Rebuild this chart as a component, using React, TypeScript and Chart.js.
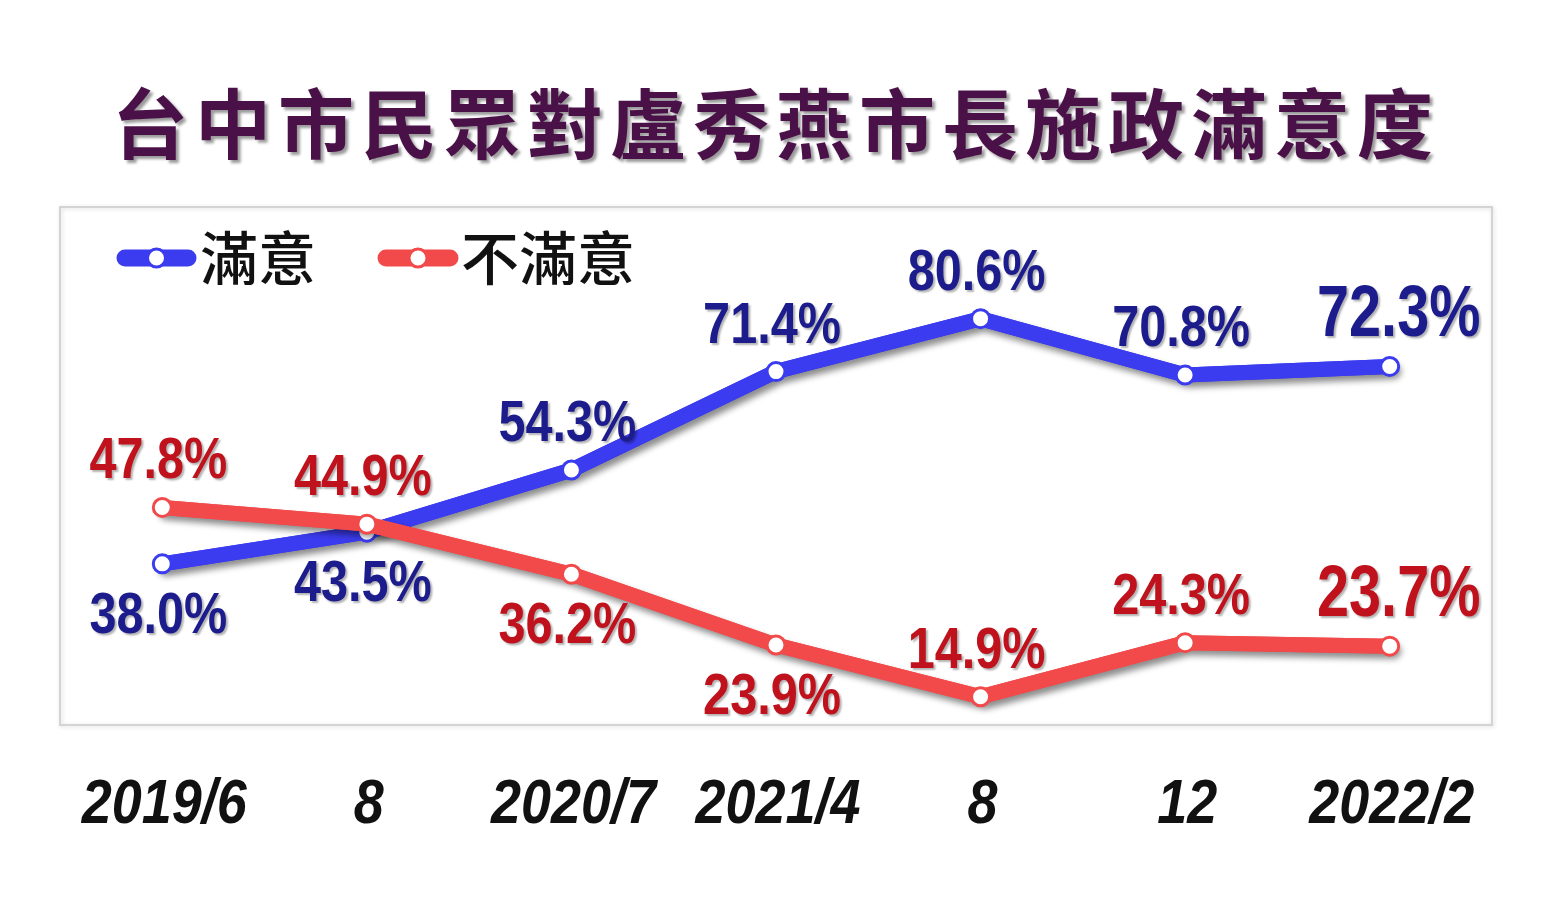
import React, { useEffect, useRef } from "react";
import { Chart, registerables } from "chart.js";

Chart.register(...registerables);

const titleText = "台中市民眾對盧秀燕市長施政滿意度";
const categories = ["2019/6", "8", "2020/7", "2021/4", "8", "12", "2022/2"];
const seriesNames = ["滿意", "不滿意"];
const satisfied = [38.0, 43.5, 54.3, 71.4, 80.6, 70.8, 72.3];
const dissatisfied = [47.8, 44.9, 36.2, 23.9, 14.9, 24.3, 23.7];
const satisfiedLabelSide = ["below", "below", "above", "above", "above", "above", "above"];
const dissatisfiedLabelSide = ["above", "above", "below", "below", "above", "above", "above"];

const BLUE = "#3b3bef";
const RED = "#f24a4a";
const BLUE_TEXT = "#1c1c8c";
const RED_TEXT = "#c0121c";

function drawScaledText(
  ctx: CanvasRenderingContext2D,
  text: string,
  x: number,
  y: number,
  font: string,
  color: string,
  sx: number,
  sy: number,
  shadow = true
) {
  ctx.save();
  ctx.translate(x, y);
  ctx.scale(sx, sy);
  ctx.font = font;
  ctx.fillStyle = color;
  ctx.textAlign = "center";
  ctx.textBaseline = "middle";
  if (shadow) {
    ctx.shadowColor = "rgba(0,0,0,0.3)";
    ctx.shadowOffsetX = 2;
    ctx.shadowOffsetY = 2;
    ctx.shadowBlur = 2;
  }
  ctx.fillText(text, 0, 0);
  ctx.restore();
}

const decorPlugin = {
  id: "decor",
  beforeDatasetsDraw(chart: any) {
    const { ctx, chartArea } = chart;
    ctx.save();
    ctx.shadowColor = "rgba(0,0,0,0.15)";
    ctx.shadowBlur = 4;
    ctx.shadowOffsetX = 1;
    ctx.shadowOffsetY = 1;
    ctx.strokeStyle = "#d4d4d4";
    ctx.lineWidth = 2;
    ctx.strokeRect(chartArea.left, chartArea.top, chartArea.right - chartArea.left, chartArea.bottom - chartArea.top);
    ctx.restore();

    // legend
    const legendY = chartArea.top + 51;
    const items = [
      { x0: chartArea.left + 57, x1: chartArea.left + 136, tx: chartArea.left + 140 },
      { x0: chartArea.left + 318, x1: chartArea.left + 398, tx: chartArea.left + 401 },
    ];
    chart.data.datasets.forEach((ds: any, i: number) => {
      const it = items[i];
      ctx.save();
      ctx.strokeStyle = ds.borderColor;
      ctx.lineWidth = 17;
      ctx.lineCap = "round";
      ctx.beginPath();
      ctx.moveTo(it.x0 + 8, legendY);
      ctx.lineTo(it.x1 - 8, legendY);
      ctx.stroke();
      ctx.beginPath();
      ctx.arc((it.x0 + it.x1) / 2, legendY, 9, 0, Math.PI * 2);
      ctx.fillStyle = "#ffffff";
      ctx.fill();
      ctx.lineWidth = 3;
      ctx.stroke();
      ctx.font = '500 58px "Noto Sans CJK TC", "Noto Sans CJK SC", sans-serif';
      ctx.fillStyle = "#111111";
      ctx.textAlign = "left";
      ctx.textBaseline = "middle";
      ctx.fillText(ds.label, it.tx, legendY + 0);
      ctx.restore();
    });
  },
  beforeDatasetDraw(chart: any, args: any) {
    const ctx = chart.ctx;
    const meta = args.meta;
    ctx.save();
    ctx.shadowColor = "rgba(0,0,0,0.45)";
    ctx.shadowOffsetX = 4;
    ctx.shadowOffsetY = 5;
    ctx.shadowBlur = 6;
    if (meta && meta.dataset) meta.dataset.draw(ctx, chart.chartArea);
    ctx.restore();
  },
  afterDatasetsDraw(chart: any) {
    const { ctx } = chart;
    const xScale = chart.scales.x;
    const yScale = chart.scales.y;
    const specs = [
      { data: satisfied, sides: satisfiedLabelSide, color: BLUE_TEXT },
      { data: dissatisfied, sides: dissatisfiedLabelSide, color: RED_TEXT },
    ];
    specs.forEach((s) => {
      s.data.forEach((v, i) => {
        const px = xScale.getPixelForValue(i);
        const py = yScale.getPixelForValue(v);
        const last = i === s.data.length - 1;
        const text = v.toFixed(1) + "%";
        if (last) {
          const y = py - 50;
          drawScaledText(ctx, text, px + 9, y, 'bold 64px "Liberation Sans", Arial, sans-serif', s.color, 0.9, 1.13);
        } else {
          const y = s.sides[i] === "above" ? py - 45 : py + 53;
          drawScaledText(ctx, text, px - 4, y, 'bold 54px "Liberation Sans", Arial, sans-serif', s.color, 0.9, 1.07);
        }
      });
    });
    // category labels below the plot box
    categories.forEach((c, i) => {
      const px = xScale.getPixelForValue(i);
      drawScaledText(
        ctx,
        c,
        px + 2,
        chart.chartArea.bottom + 81,
        'italic bold 58px "Liberation Sans", Arial, sans-serif',
        "#111111",
        0.93,
        1.08,
        false
      );
    });
  },
};

export default function App() {
  const canvasRef = useRef<HTMLCanvasElement | null>(null);

  useEffect(() => {
    if (!canvasRef.current) return;
    const chart = new Chart(canvasRef.current, {
      type: "line",
      data: {
        labels: categories,
        datasets: [
          {
            label: seriesNames[0],
            data: satisfied,
            borderColor: BLUE,
            backgroundColor: BLUE,
            borderWidth: 15,
            borderCapStyle: "round",
            borderJoinStyle: "round",
            pointRadius: 9,
            pointBorderWidth: 3,
            pointBackgroundColor: "#ffffff",
            pointBorderColor: BLUE,
            tension: 0,
            order: 1,
          },
          {
            label: seriesNames[1],
            data: dissatisfied,
            borderColor: RED,
            backgroundColor: RED,
            borderWidth: 15,
            borderCapStyle: "round",
            borderJoinStyle: "round",
            pointRadius: 9,
            pointBorderWidth: 3,
            pointBackgroundColor: "#ffffff",
            pointBorderColor: RED,
            tension: 0,
            order: 0,
          },
        ],
      },
      options: {
        responsive: false,
        animation: false,
        devicePixelRatio: 1,
        layout: { padding: { left: 52, right: 52, top: 199, bottom: 183 } },
        scales: {
          x: { type: "category", offset: true, display: false },
          y: { min: 10, max: 100, display: false },
        },
        plugins: {
          legend: { display: false },
          title: { display: false },
          tooltip: { enabled: false },
        },
      },
      plugins: [decorPlugin],
    });
    return () => chart.destroy();
  }, []);

  return (
    <div style={{ position: "relative", width: 1536, height: 900, background: "#ffffff" }}>
      <canvas ref={canvasRef} width={1536} height={900} style={{ position: "absolute", left: 0, top: 0 }} />
      <div
        style={{
          position: "absolute",
          left: 0,
          top: 74,
          width: 1536,
          textAlign: "center",
          fontFamily: '"Noto Sans CJK TC", "Noto Sans CJK SC", sans-serif',
          fontWeight: 700,
          fontSize: 76,
          lineHeight: 1,
          letterSpacing: 7,
          color: "#4a1048",
          textShadow: "3px 3px 3px rgba(0,0,0,0.4)",
          whiteSpace: "nowrap",
        }}
      >
        {titleText}
      </div>
    </div>
  );
}
